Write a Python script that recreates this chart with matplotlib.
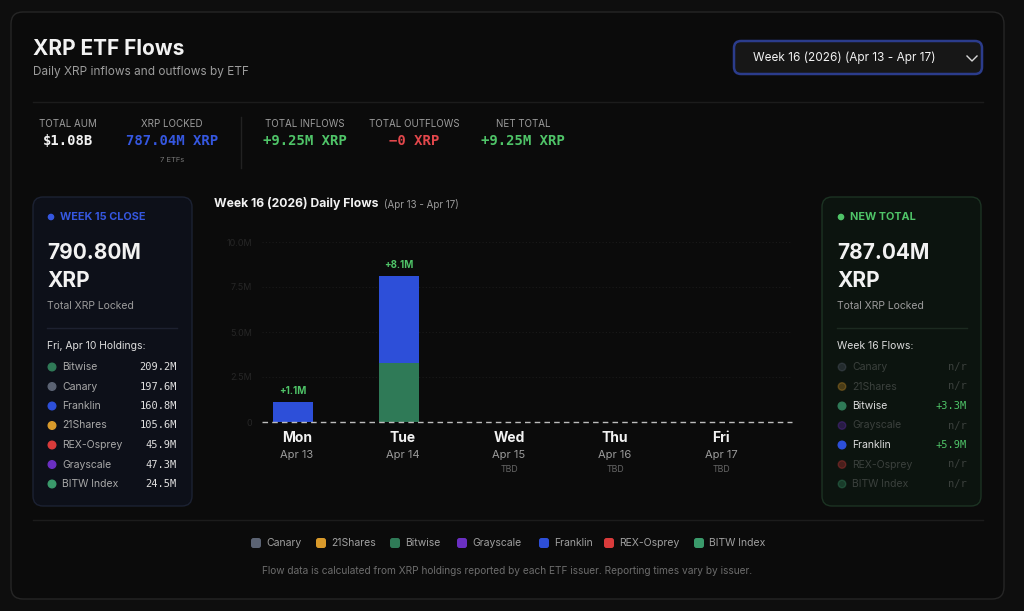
import numpy as np
import matplotlib.pyplot as plt
from matplotlib.patches import FancyBboxPatch, Circle

plt.rcParams['font.family'] = ['Inter', 'DejaVu Sans']
MONO = ['DejaVu Sans Mono']

# === DATA ===
etfs = ["Canary", "21Shares", "Bitwise", "Grayscale", "Franklin", "REX-Osprey", "BITW Index"]
etf_colors = ["#5b6373", "#d99a2b", "#2f7a57", "#6a2fc2", "#2d4fd9", "#d93b3b", "#3a9a6b"]
days = ["Mon", "Tue", "Wed", "Thu", "Fri"]
dates = ["Apr 13", "Apr 14", "Apr 15", "Apr 16", "Apr 17"]
reported = [True, True, False, False, False]
# daily flows in M XRP (None = not reported)
daily_flows = {
    "Canary":     [None, None, None, None, None],
    "21Shares":   [None, None, None, None, None],
    "Bitwise":    [0.0, 3.3, None, None, None],
    "Grayscale":  [None, None, None, None, None],
    "Franklin":   [1.1, 4.8, None, None, None],
    "REX-Osprey": [None, None, None, None, None],
    "BITW Index": [None, None, None, None, None],
}
y_ticks = [0, 2.5, 5.0, 7.5, 10.0]
y_tick_labels = ["0", "2.5M", "5.0M", "7.5M", "10.0M"]

holding_names = ["Bitwise", "Canary", "Franklin", "21Shares", "REX-Osprey", "Grayscale", "BITW Index"]
holding_values = [209.2, 197.6, 160.8, 105.6, 45.9, 47.3, 24.5]

stat_labels = ["TOTAL AUM", "XRP LOCKED", "TOTAL INFLOWS", "TOTAL OUTFLOWS", "NET TOTAL"]
stat_values = ["$1.08B", "787.04M XRP", "+9.25M XRP", "\u22120 XRP", "+9.25M XRP"]

color_of = dict(zip(etfs, etf_colors))

BG = "#0b0b0b"
WHITE = "#f2f2f2"
GRAY = "#9c9c9c"
GREEN = "#4fc468"
BLUE = "#3557e0"
RED = "#e2474b"

fig = plt.figure(figsize=(10.24, 6.11), dpi=100, facecolor="#0e0e0e")

# === BACKGROUND LAYER (pixel coords) ===
bg = fig.add_axes([0, 0, 1, 1])
bg.set_xlim(0, 1024)
bg.set_ylim(611, 0)
bg.axis("off")


def rbox(x, y, w, h, fc, ec, r=8, lw=1.0, z=1):
    p = FancyBboxPatch((x, y), w, h, boxstyle=f"round,pad=0,rounding_size={r}",
                       fc=fc, ec=ec, lw=lw, zorder=z)
    bg.add_patch(p)


def txt(x, y, s, size=8, color=WHITE, weight="normal", ha="left", family=None, alpha=1.0):
    kw = {}
    if family:
        kw["family"] = family
    bg.text(x, y, s, fontsize=size, color=color, fontweight=weight, ha=ha,
            va="center", alpha=alpha, zorder=5, **kw)


# card
rbox(11, 12, 993, 587, BG, "#262626", r=12)

# header
txt(33, 49, "XRP ETF Flows", size=15, weight="bold")
txt(33, 72, "Daily XRP inflows and outflows by ETF", size=8.5, color=GRAY)

# dropdown
rbox(734, 41, 248, 33, "#171717", "#2b3c8c", r=7, lw=1.8, z=2)
txt(753, 58, "Week 16 (2026) (Apr 13 - Apr 17)", size=8.5, color=WHITE)
bg.plot([967, 972, 977], [56, 61, 56], color="#d8d8d8", lw=1.0, zorder=5)

# separators
bg.plot([33, 983], [102, 102], color="#1c1c1c", lw=1, zorder=2)
bg.plot([33, 983], [520, 520], color="#1c1c1c", lw=1, zorder=2)
bg.plot([241, 241], [117, 168], color="#222222", lw=1, zorder=2)

# stats row
stat_x = [68, 172, 305, 414, 523]
stat_colors = [WHITE, BLUE, GREEN, RED, GREEN]
for x, lab, val, c in zip(stat_x, stat_labels, stat_values, stat_colors):
    txt(x, 124, lab, size=7, color=GRAY, ha="center")
    txt(x, 141, val, size=10, color=c, weight="bold", ha="center", family=MONO)
txt(172, 160, f"{len(etfs)} ETFs", size=5.5, color="#777777", ha="center")

# === LEFT PANEL ===
rbox(33, 197, 159, 309, "#0d1019", "#1c2233", r=10)
bg.add_patch(Circle((51, 217), 2.6, color=BLUE, zorder=5))
txt(60, 217, "WEEK 15 CLOSE", size=7.8, color=BLUE, weight="bold")
txt(47, 253, "790.80M", size=15, weight="bold")
txt(47, 281, "XRP", size=15, weight="bold")
txt(47, 306, "Total XRP Locked", size=7.5, color=GRAY)
bg.plot([47, 177], [328, 328], color="#1d2130", lw=1, zorder=3)
txt(47, 346, "Fri, Apr 10 Holdings:", size=7.5, color="#dddddd")
for i, (n, v) in enumerate(zip(holding_names, holding_values)):
    y = 367 + i * 19.5
    bg.add_patch(Circle((52, y), 3.8, color=color_of[n], zorder=5))
    txt(62, y, n, size=7.5, color="#a8a8a8")
    txt(177, y, f"{v:.1f}M", size=7.5, color="#e0e0e0", ha="right", family=MONO)

# === RIGHT PANEL ===
rbox(822, 197, 159, 309, "#0c140f", "#1c3323", r=10)
bg.add_patch(Circle((841, 217), 2.6, color=GREEN, zorder=5))
txt(850, 217, "NEW TOTAL", size=7.8, color=GREEN, weight="bold")
txt(837, 253, "787.04M", size=15, weight="bold")
txt(837, 281, "XRP", size=15, weight="bold")
txt(837, 306, "Total XRP Locked", size=7.5, color=GRAY)
bg.plot([837, 967], [328, 328], color="#1c2a20", lw=1, zorder=3)
txt(837, 346, "Week 16 Flows:", size=7.5, color="#dddddd")
for i, n in enumerate(etfs):
    y = 367 + i * 19.5
    vals = [v for v in daily_flows[n] if v is not None]
    has = len(vals) > 0
    a = 1.0 if has else 0.3
    bg.add_patch(Circle((842, y), 3.8, color=color_of[n], alpha=a, zorder=5))
    txt(852, y, n, size=7.5, color="#dcdcdc" if has else "#a8a8a8", alpha=a)
    s = f"+{sum(vals):.1f}M" if has else "n/r"
    txt(967, y, s, size=7.5, color=GREEN if has else "#a8a8a8", ha="right",
        family=MONO, alpha=a)

# === CHART ===
txt(214, 204, "Week 16 (2026) Daily Flows", size=8.8, weight="bold")
txt(384, 204, "(Apr 13 - Apr 17)", size=7, color=GRAY)

ax = fig.add_axes([262 / 1024, 1 - 422 / 611, 530 / 1024, 180 / 611])
ax.set_facecolor("none")
ax.set_zorder(3)
x = np.arange(len(days))
bottom = np.zeros(len(days))
for n in etfs:
    vals = np.array([v if v is not None else 0.0 for v in daily_flows[n]])
    if vals.sum() == 0:
        continue
    ax.bar(x, vals, bottom=bottom, width=0.377, color=color_of[n], zorder=3)
    bottom += vals

ax.set_xlim(-0.292, 4.708)
ax.set_ylim(0, 10)
ax.set_yticks(y_ticks)
ax.set_yticklabels(y_tick_labels)
ax.tick_params(axis="y", length=0, pad=7, labelsize=6.5, labelcolor="#262626")
ax.set_xticks([])
for s in ax.spines.values():
    s.set_visible(False)
for t in y_ticks[1:]:
    ax.axhline(t, color="#1a1a1a", lw=0.8, ls=(0, (1, 2)), zorder=1)
ax.axhline(0, color="#bdbdbd", lw=1, ls=(0, (4, 3)), zorder=4, clip_on=False)

for i in range(len(days)):
    if reported[i] and bottom[i] > 0:
        ax.text(x[i], bottom[i] + 0.35, f"+{bottom[i]:.1f}M", ha="center", va="bottom",
                fontsize=7, fontweight="bold", color=GREEN)
    xp = 297 + i * 106
    txt(xp, 438, days[i], size=10, weight="bold", ha="center")
    txt(xp, 455, dates[i], size=8, color=GRAY, ha="center")
    if not reported[i]:
        txt(xp, 470, "TBD", size=6.3, color="#666666", ha="center")

# === LEGEND ===
leg_x = [256, 321, 395, 462, 544, 609, 699]
for lx, n in zip(leg_x, etfs):
    rbox(lx - 5, 538, 10, 10, color_of[n], "none", r=2.5, lw=0, z=5)
    txt(lx + 10, 543, n, size=7.5, color="#a0a0a0")

txt(507, 571, "Flow data is calculated from XRP holdings reported by each ETF issuer. "
    "Reporting times vary by issuer.", size=7.3, color="#6c6c6c", ha="center")

fig.savefig("out.png", dpi=100, facecolor=fig.get_facecolor())
